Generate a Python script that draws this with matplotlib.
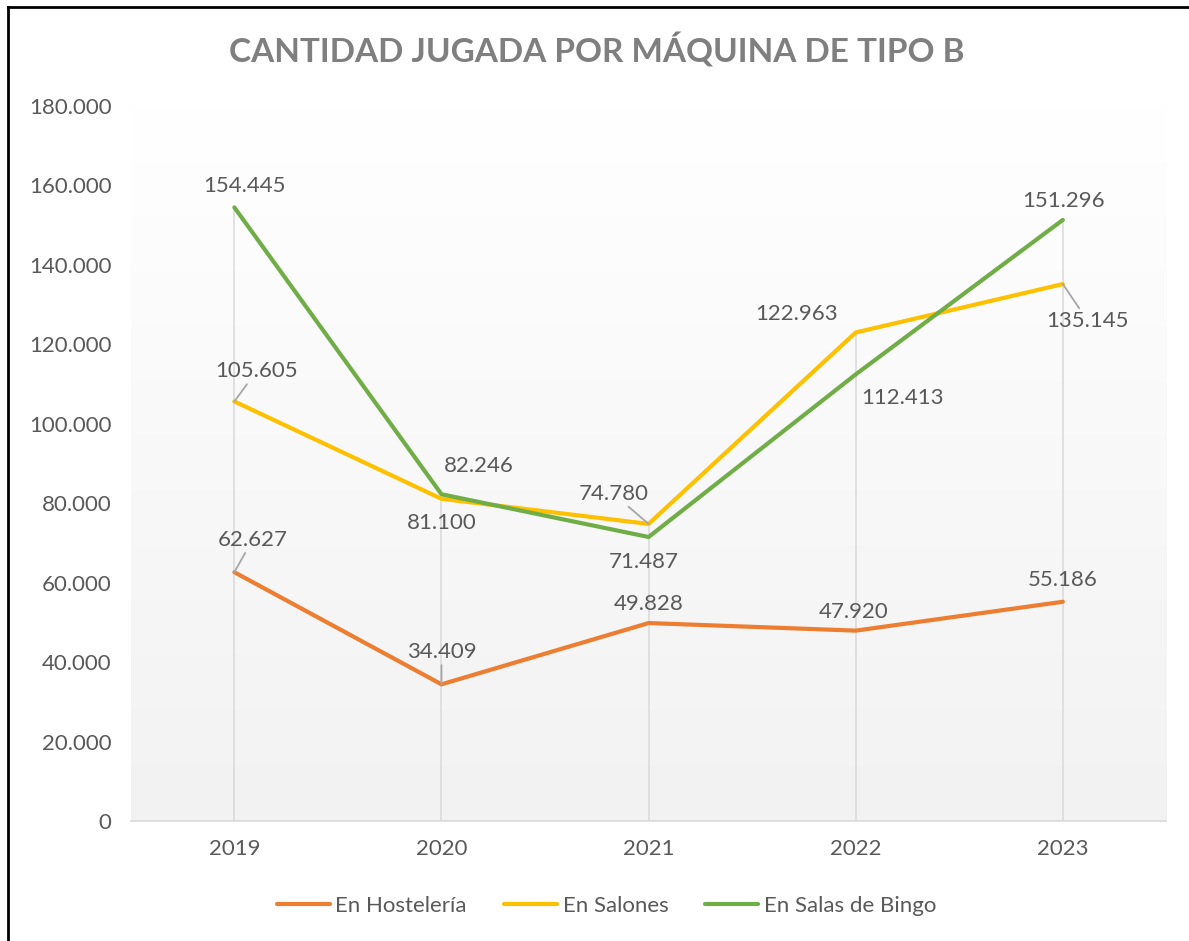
import numpy as np
import matplotlib
matplotlib.use("Agg")
import matplotlib.pyplot as plt
from matplotlib.colors import LinearSegmentedColormap
from matplotlib.ticker import FuncFormatter
from matplotlib.lines import Line2D

years = ["2019", "2020", "2021", "2022", "2023"]
hosteleria = [62627, 34409, 49828, 47920, 55186]
salones = [105605, 81100, 74780, 122963, 135145]
bingo = [154445, 82246, 71487, 112413, 151296]
series_names = ["En Hostelería", "En Salones", "En Salas de Bingo"]
title = "CANTIDAD JUGADA POR MÁQUINA DE TIPO B"

colors = ["#ED7D31", "#FFC000", "#70AD47"]
# label offsets in pixels (dx, dy) from each point, and whether Excel drew a leader line
offsets = [
    [(18, 32, True), (0, 32, True), (0, 19, False), (-2, 19, False), (0, 22, False)],
    [(22, 30, True), (0, -24, False), (-35, 30, True), (-59, 18, False), (25, -37, True)],
    [(10, 21, False), (37, 28, False), (-5, -25, False), (47, -24, False), (1, 19, False)],
]

plt.rcParams['font.family'] = ['Lato', 'DejaVu Sans']

fig = plt.figure(figsize=(11.89, 9.41), dpi=100)
ax = fig.add_axes([0.110, 0.1275, 0.871, 0.760])

x = np.arange(len(years))
data = [hosteleria, salones, bingo]

# plot-area gradient
cmap = LinearSegmentedColormap.from_list("bg", ["#f2f2f2", "#ffffff"])
grad = np.linspace(0, 1, 256).reshape(-1, 1)
ax.imshow(grad, extent=[0, 1, 0, 1], transform=ax.transAxes, cmap=cmap,
          aspect="auto", origin="lower", zorder=0)

# drop lines
tops = np.max(np.array(data), axis=0)
ax.vlines(x, 0, tops, color="#d9d9d9", lw=1.1, zorder=1)

for vals, c, name in zip(data, colors, series_names):
    ax.plot(x, vals, color=c, lw=3, solid_capstyle="round", label=name, zorder=3)

px = 0.72
for vals, offs in zip(data, offsets):
    for xi, v, (dx, dy, lead) in zip(x, vals, offs):
        label = f"{v:,}".replace(",", ".")
        kw = {}
        if lead:
            kw["arrowprops"] = dict(arrowstyle="-", color="#a6a6a6", lw=1.3,
                                    shrinkA=0, shrinkB=0)
        ax.annotate(label, (xi, v), xytext=(dx * px, dy * px),
                    textcoords="offset points", ha="center", va="center",
                    fontsize=16, color="#595959", zorder=4, **kw)

ax.set_xlim(-0.5, 4.5)
ax.set_ylim(0, 180000)
ax.set_xticks(x)
ax.set_xticklabels(years)
ax.set_yticks(np.arange(0, 180001, 20000))
ax.yaxis.set_major_formatter(FuncFormatter(lambda v, p: f"{int(v):,}".replace(",", ".")))
ax.tick_params(axis="both", length=0, labelsize=16, labelcolor="#595959")
ax.tick_params(axis="y", pad=14)
ax.tick_params(axis="x", pad=13)
for s in ["top", "right", "left"]:
    ax.spines[s].set_visible(False)
ax.spines["bottom"].set_color("#d9d9d9")
ax.spines["bottom"].set_linewidth(1.2)

fig.text(0.502, 0.947, title, ha="center", va="center", fontsize=24,
         fontweight="bold", color="#7f7f7f")

handles = [Line2D([0], [0], color=c, lw=3, solid_capstyle="round") for c in colors]
fig.legend(handles, series_names, loc="center", bbox_to_anchor=(0.51, 0.037),
           ncol=3, frameon=False, fontsize=16, labelcolor="#595959",
           handlelength=2.4, handletextpad=0.25, columnspacing=1.65)

# outer border (left and top only)
fig.add_artist(Line2D([0.0067, 0.0067], [0, 0.9926], color="black", lw=2,
                      transform=fig.transFigure))
fig.add_artist(Line2D([0.0067, 1], [0.9926, 0.9926], color="black", lw=2,
                      transform=fig.transFigure))

fig.savefig("out.png", dpi=100)
